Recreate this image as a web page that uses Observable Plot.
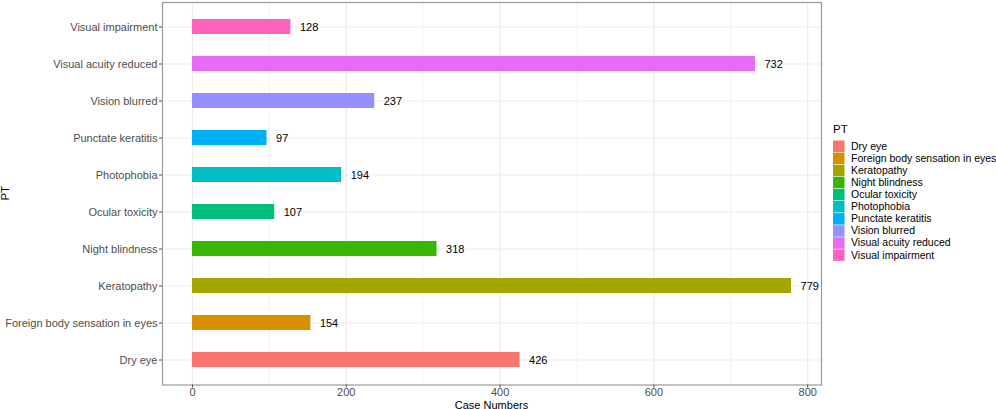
<!DOCTYPE html>
<html>
<head>
<meta charset="utf-8">
<script src="https://cdn.jsdelivr.net/npm/d3@7"></script>
<script src="https://cdn.jsdelivr.net/npm/@observablehq/plot@0.6"></script>
<style>
  html, body { margin: 0; padding: 0; background: #fff; }
  svg { font-family: "Liberation Sans", Arial, sans-serif; }
</style>
</head>
<body>
<div id="chart"></div>
<script>
const categories = ["Dry eye", "Foreign body sensation in eyes", "Keratopathy", "Night blindness", "Ocular toxicity", "Photophobia", "Punctate keratitis", "Vision blurred", "Visual acuity reduced", "Visual impairment"];
const counts = [426, 154, 779, 318, 107, 194, 97, 237, 732, 128];
const colors = ["#F8766D", "#D89000", "#A3A500", "#39B600", "#00BF7D", "#00BFC4", "#00B0F6", "#9590FF", "#E76BF3", "#FF62BC"];
const xMajor = [0, 200, 400, 600, 800];
const xMinor = [100, 300, 500, 700];

const data = categories.map((c, i) => ({PT: c, n: counts[i]}));
const maxV = d3.max(counts);
const pad = maxV * 0.05;

const W = 996, H = 409;
const mL = 162, mR = 175, mT = 2, mB = 24.5;

const plot = Plot.plot({
  width: W,
  height: H,
  marginLeft: mL,
  marginRight: mR,
  marginTop: mT,
  marginBottom: mB,
  style: {fontFamily: '"Liberation Sans", Arial, sans-serif', background: "#fff", overflow: "visible"},
  x: {domain: [-pad, maxV + pad], label: null},
  y: {domain: categories.slice().reverse(), paddingInner: 0.6, paddingOuter: 0.4, label: null},
  color: {domain: categories, range: colors},
  marks: [
    Plot.gridX(xMinor, {stroke: "#EBEBEB", strokeOpacity: 1, strokeWidth: 0.6}),
    Plot.gridX(xMajor, {stroke: "#EBEBEB", strokeOpacity: 1, strokeWidth: 1.1}),
    Plot.gridY(categories, {stroke: "#EBEBEB", strokeOpacity: 1, strokeWidth: 1.1}),
    Plot.barX(data, {x1: 0, x2: "n", y: "PT", fill: "PT"}),
    Plot.text(data, {x: "n", y: "PT", text: d => String(d.n), dx: 9, textAnchor: "start", fontSize: 11, fill: "#000"}),
    Plot.frame({stroke: "#9a9a9a", strokeWidth: 1.2}),
    Plot.axisY({tickSize: 3, tickPadding: 2, fontSize: 11, color: "#4D4D4D", stroke: "#4D4D4D"}),
    Plot.axisX(xMajor, {tickSize: 3, tickPadding: 0, fontSize: 11, color: "#4D4D4D", stroke: "#4D4D4D"})
  ]
});

document.getElementById("chart").appendChild(plot);

const svg = d3.select(plot);
// axis titles
svg.append("text")
  .attr("x", mL + (W - mL - mR) / 2).attr("y", H - 0.5)
  .attr("text-anchor", "middle").attr("font-size", 11).attr("fill", "#000")
  .text("Case Numbers");
svg.append("text")
  .attr("transform", `translate(9,${mT + (H - mT - mB) / 2}) rotate(-90)`)
  .attr("text-anchor", "middle").attr("font-size", 11.5).attr("fill", "#000")
  .text("PT");

// legend
const lx = 833, ly0 = 140, step = 12.1;
const lg = svg.append("g").attr("text-anchor", "start");
lg.append("text").attr("x", lx).attr("y", ly0 - 7).attr("text-anchor", "start").attr("font-size", 11.5).attr("fill", "#000").text("PT");
categories.forEach((c, i) => {
  const cy = ly0 + 6 + i * step;
  lg.append("rect").attr("x", lx).attr("y", cy - 5.5).attr("width", 11.5).attr("height", 11.5).attr("fill", colors[i]);
  lg.append("text").attr("x", lx + 18).attr("y", cy).attr("dy", "0.35em").attr("text-anchor", "start").attr("font-size", 10.5).attr("fill", "#000").text(c);
});
</script>
</body>
</html>
